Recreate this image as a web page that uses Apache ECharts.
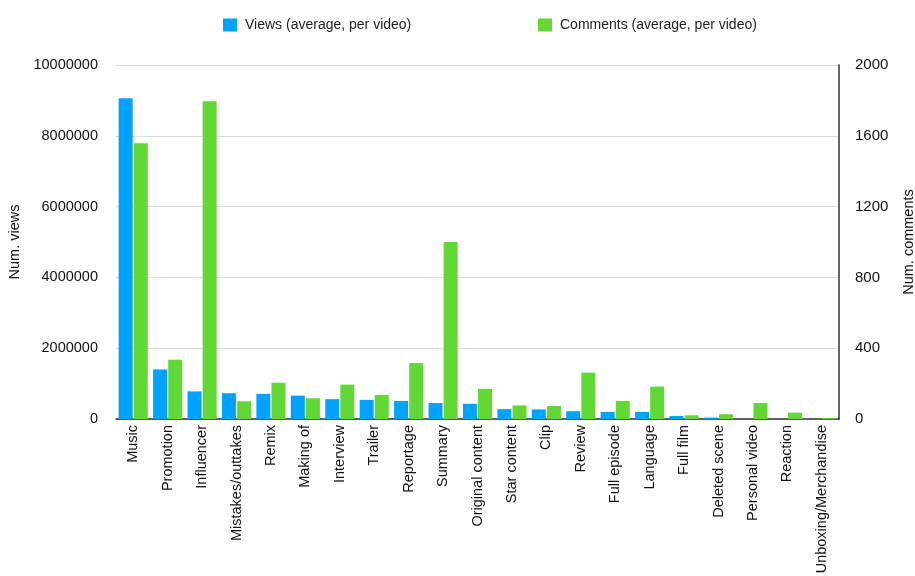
<!DOCTYPE html>
<html>
<head>
<meta charset="utf-8">
<script src="https://cdn.jsdelivr.net/npm/echarts@6/dist/echarts.min.js"></script>
<style>
  html, body { margin: 0; padding: 0; background: #fff; }
  #main { width: 915px; height: 576px; }
</style>
</head>
<body>
<div id="main"></div>
<script>
var categories = ['Music', 'Promotion', 'Influencer', 'Mistakes/outtakes', 'Remix', 'Making of',
    'Interview', 'Trailer', 'Reportage', 'Summary', 'Original content', 'Star content', 'Clip',
    'Review', 'Full episode', 'Language', 'Full film', 'Deleted scene', 'Personal video',
    'Reaction', 'Unboxing/Merchandise'];
var views = [9060000, 1400000, 780000, 730000, 710000, 660000, 560000, 540000, 510000, 450000,
    430000, 280000, 270000, 220000, 200000, 200000, 85000, 40000, 0, 0, 0];
var comments = [1558, 335, 1795, 100, 205, 117, 194, 136, 316, 1000, 170, 77, 73, 262, 102, 183,
    21, 27, 90, 36, 6];
var seriesNames = ['Views (average, per video)', 'Comments (average, per video)'];

var font = '"Liberation Sans", Arial, Helvetica, sans-serif';
var myChart = echarts.init(document.getElementById('main'));

function plain(v) {
    return String(v);
}

function legendAt(x, name) {
    return {
        top: 13,
        left: x,
        itemWidth: 14,
        itemHeight: 13,
        icon: 'rect',
        itemStyle: { borderWidth: 0 },
        textStyle: { fontSize: 14, color: '#222', fontFamily: font, padding: [0, 0, 0, 3] },
        data: [name]
    };
}

option = {
    animation: false,
    textStyle: { fontFamily: font },
    legend: [legendAt(218, seriesNames[0]), legendAt(533, seriesNames[1])],
    grid: { left: 116, right: 76, top: 65, bottom: 157, outerBoundsMode: 'none', containLabel: false },
    xAxis: {
        type: 'category',
        data: categories,
        axisLine: { lineStyle: { color: '#333', width: 1.5 } },
        axisTick: { show: false },
        axisLabel: { rotate: 90, interval: 0, fontSize: 14.5, color: '#111', margin: 6 }
    },
    yAxis: [{
        type: 'value',
        name: 'Num. views',
        nameLocation: 'middle',
        nameGap: 92,
        nameTextStyle: { fontSize: 14.5, color: '#111' },
        min: 0,
        max: 10000000,
        interval: 2000000,
        axisLine: { show: false },
        axisTick: { show: false },
        axisLabel: { fontSize: 14.5, color: '#111', margin: 18, formatter: plain },
        splitLine: { lineStyle: { color: '#dcdcdc', width: 1 } }
    }, {
        type: 'value',
        name: 'Num. comments',
        nameLocation: 'middle',
        nameGap: 62,
        nameTextStyle: { fontSize: 14.5, color: '#111' },
        min: 0,
        max: 2000,
        interval: 400,
        axisLine: { show: true, lineStyle: { color: '#333', width: 1.5 } },
        axisTick: { show: false },
        axisLabel: { fontSize: 15, color: '#111', margin: 16, formatter: plain },
        splitLine: { show: false }
    }],
    series: [{
        name: seriesNames[0],
        type: 'bar',
        yAxisIndex: 0,
        barWidth: 14,
        barGap: '8%',
        itemStyle: { color: '#00a2ff' },
        data: views
    }, {
        name: seriesNames[1],
        type: 'bar',
        yAxisIndex: 1,
        barWidth: 14,
        itemStyle: { color: '#61d836' },
        data: comments
    }]
};

myChart.setOption(option);
</script>
</body>
</html>
